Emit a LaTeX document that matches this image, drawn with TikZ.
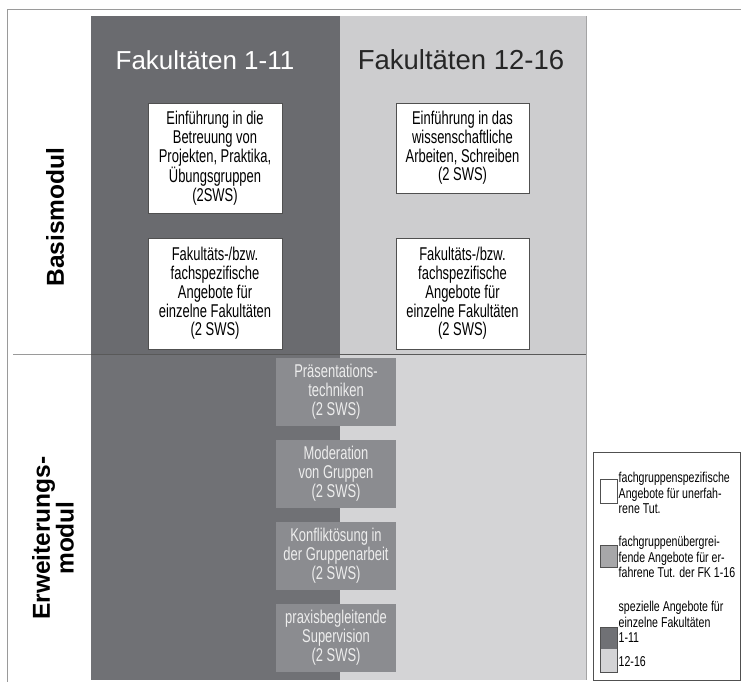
\documentclass[tikz,border=0pt]{standalone}
\usepackage{fontspec}
\setmainfont{Liberation Sans}
\newfontfamily\nar[FakeStretch=0.7]{Liberation Sans}
\newfontfamily\legfont[FakeStretch=0.74]{Liberation Sans}
\definecolor{darkU}{HTML}{6A6B6F}
\definecolor{darkL}{HTML}{707175}
\definecolor{lightU}{HTML}{CDCDCF}
\definecolor{lightL}{HTML}{D4D4D6}
\definecolor{midbox}{HTML}{8B8C90}
\definecolor{legbox}{HTML}{A7A7A9}
\definecolor{frame}{HTML}{9A9A9A}
\definecolor{boxline}{HTML}{505050}
\begin{document}
\begin{tikzpicture}[x=1pt,y=-1pt,
  whitebox/.style={draw=boxline,line width=0.8pt,fill=white,inner sep=0pt,align=center,
    font=\nar\fontsize{18.5}{18.8}\selectfont,minimum width=134pt},
  graybox/.style={fill=midbox,inner sep=0pt,align=center,text=white!93!black,
    font=\nar\fontsize{18.5}{18.8}\selectfont,minimum width=120pt,minimum height=68pt},
  title/.style={inner sep=0pt},
  sidelabel/.style={rotate=90,font=\bfseries\fontsize{24.5}{20}\selectfont,align=center,inner sep=0pt},
  legtext/.style={font=\legfont\fontsize{14.3}{15.6}\selectfont,align=left,anchor=west,inner sep=0pt},
  swatch/.style={draw=boxline,line width=0.8pt}]
\useasboundingbox (0,0) rectangle (741,682);
% columns
\fill[darkL] (91,354) rectangle (340,680);
\fill[lightL] (340,354) rectangle (586,680);
\fill[darkU] (91,16) rectangle (340,354);
\fill[lightU] (340,16) rectangle (586,354);
\draw[lightU!80!black,line width=0.6pt] (586,16) -- (586,680);
% frame lines
\draw[frame,line width=0.9pt] (7,682) -- (7,9) -- (741,9);
\draw[frame,line width=0.9pt] (13,354) -- (91,354);
\draw[black!65,line width=1pt] (91,354) -- (586,354);
% titles
\node[title,text=white,font=\fontsize{26}{30}\selectfont] (t1) at (205,60) {Fakultäten 1-11};
\node[title,text=black!85,font=\fontsize{27.5}{30}\selectfont] (t2) at (461,60) {Fakultäten 12-16};
% side labels
\node[sidelabel] (bm) at (55,217) {Basismodul};
\node[sidelabel] (em) at (53,538) {Erweiterungs-\\modul};
% white boxes
\node[whitebox,minimum height=110pt] (a) at (215,158) {Einführung in die\\Betreuung von\\Projekten, Praktika,\\Übungsgruppen\\(2SWS)};
\node[whitebox,minimum height=111pt] (b) at (215,293.5) {Fakultäts-/bzw.\\fachspezifische\\Angebote für\\einzelne Fakultäten\\(2 SWS)};
\node[whitebox,minimum width=133pt,minimum height=90pt] (c) at (462.5,148) {Einführung in das\\wissenschaftliche\\Arbeiten, Schreiben\\(2 SWS)};
\node[whitebox,minimum width=133pt,minimum height=111pt] (d) at (462.5,293.5) {Fakultäts-/bzw.\\fachspezifische\\Angebote für\\einzelne Fakultäten\\(2 SWS)};
% gray boxes
\node[graybox] (g1) at (336,392) {Präsentations-\\techniken\\(2 SWS)};
\node[graybox] (g2) at (336,474) {Moderation\\von Gruppen\\(2 SWS)};
\node[graybox] (g3) at (336,556) {Konfliktösung in\\der Gruppenarbeit\\(2 SWS)};
\node[graybox] (g4) at (336,638) {praxisbegleitende\\Supervision\\(2 SWS)};
% legend
\draw[boxline,line width=0.8pt] (593,452) rectangle (740.5,680);
\draw[swatch,fill=white] (600,479) rectangle (617,503);
\draw[swatch,fill=legbox] (600,545) rectangle (617,567);
\fill[darkL] (600,627) rectangle (617,649);
\fill[lightL] (600,649) rectangle (617,672);
\draw[boxline,line width=0.8pt] (600,627) rectangle (617,672);
\node[legtext] (l1) at (618.5,493) {fachgruppenspezifische\\Angebote für unerfah-\\rene Tut.};
\node[legtext] (l2) at (618.5,557) {fachgruppenübergrei-\\fende Angebote für er-\\fahrene Tut. der FK 1-16};
\node[legtext] (l3) at (618.5,622) {spezielle Angebote für\\einzelne Fakultäten\\1-11};
\node[legtext] (l4) at (618.5,662) {12-16};
\end{tikzpicture}
\end{document}
